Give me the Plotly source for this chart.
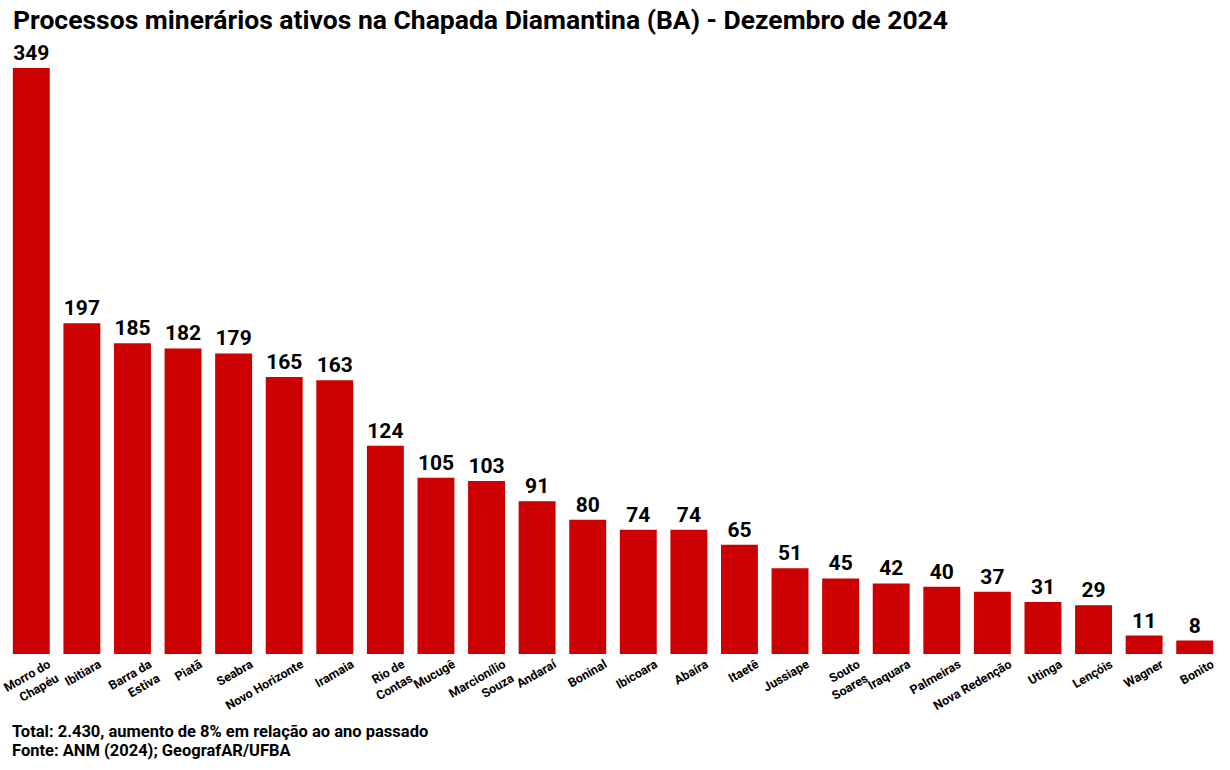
import plotly.graph_objects as go

municipios = ["Morro do<br>Chapéu", "Ibitiara", "Barra da<br>Estiva", "Piatã", "Seabra",
              "Novo Horizonte", "Iramaia", "Rio de<br>Contas", "Mucugê", "Marcionílio<br>Souza",
              "Andaraí", "Boninal", "Ibicoara", "Abaíra", "Itaetê", "Jussiape", "Souto<br>Soares",
              "Iraquara", "Palmeiras", "Nova Redenção", "Utinga", "Lençóis", "Wagner", "Bonito"]
processos = [349, 197, 185, 182, 179, 165, 163, 124, 105, 103, 91, 80, 74, 74, 65, 51, 45,
             42, 40, 37, 31, 29, 11, 8]

titulo = "Processos minerários ativos na Chapada Diamantina (BA) - Dezembro de 2024"
rodape1 = "Total: 2.430, aumento de 8% em relação ao ano passado"
rodape2 = "Fonte: ANM (2024); GeografAR/UFBA"

fig = go.Figure(go.Bar(
    x=municipios, y=processos,
    marker=dict(color="#CC0000", line=dict(width=0)),
    text=[str(v) for v in processos], textposition="outside",
    textfont=dict(family="Roboto", size=21, color="#000000", weight="bold"),
    cliponaxis=False,
))

fig.update_layout(
    width=1230, height=770,
    paper_bgcolor="white", plot_bgcolor="white",
    margin=dict(l=6, r=10, t=68, b=116, autoexpand=False),
    bargap=0.27,
    showlegend=False,
    font=dict(family="Roboto", color="#000000"),
    title=dict(text="<b>" + titulo + "</b>", x=0.0106, xanchor="left", y=0.974, yanchor="middle",
               font=dict(family="Roboto", size=26.5, color="#000000")),
    xaxis=dict(tickangle=-30, showline=False, ticks="", showgrid=False, automargin=False,
               ticklabelshift=17,
               tickfont=dict(family="Roboto", size=12.5, color="#000000", weight="bold")),
    yaxis=dict(range=[0, 349], visible=False, showgrid=False, zeroline=False, automargin=False),
    annotations=[
        dict(text="<b>" + rodape1 + "</b>", xref="paper", yref="paper",
             x=0.003, y=-0.133, xanchor="left", yanchor="middle", align="left",
             showarrow=False, font=dict(family="Roboto", size=16.5, color="#000000")),
        dict(text="<b>" + rodape2 + "</b>", xref="paper", yref="paper",
             x=0.003, y=-0.164, xanchor="left", yanchor="middle", align="left",
             showarrow=False, font=dict(family="Roboto", size=16.5, color="#000000")),
    ],
)

fig.write_html("out.html", config={"displayModeBar": False},
               post_script="document.body.style.margin='0';")
